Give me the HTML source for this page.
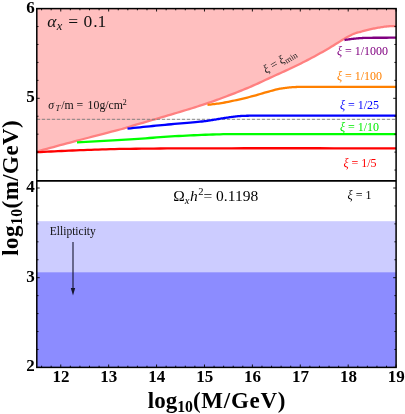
<!DOCTYPE html>
<html><head><meta charset="utf-8"><title>plot</title>
<style>
html,body{margin:0;padding:0;background:#fff;}
body{width:405px;height:414px;overflow:hidden;position:relative;font-family:"Liberation Serif",serif;}
</style></head><body>
<svg width="405" height="414" viewBox="0 0 405 414" style="position:absolute;left:0;top:0;will-change:transform">
<rect x="0" y="0" width="405" height="414" fill="#fff"/>
<rect x="36.8" y="221.2" width="359.3" height="51.0" fill="#ccccff"/>
<rect x="36.8" y="272.2" width="359.3" height="95.19999999999999" fill="#8c8cff"/>
<polygon points="36.8,8.6 396.1,8.6 396.10,26.00 395.30,26.04 394.51,26.07 393.74,26.09 392.97,26.11 392.20,26.13 391.42,26.16 390.63,26.19 389.83,26.22 389.01,26.27 388.17,26.33 387.30,26.41 386.40,26.50 385.46,26.61 384.49,26.73 383.49,26.87 382.46,27.02 381.42,27.18 380.36,27.34 379.30,27.52 378.23,27.70 377.16,27.89 376.09,28.09 375.04,28.29 374.00,28.50 372.97,28.71 371.94,28.93 370.92,29.15 369.89,29.37 368.87,29.61 367.84,29.85 366.82,30.10 365.80,30.36 364.77,30.63 363.75,30.91 362.72,31.20 361.70,31.50 360.71,31.78 359.79,32.03 358.92,32.26 358.06,32.48 357.20,32.71 356.32,32.96 355.40,33.26 354.42,33.61 353.35,34.04 352.17,34.55 350.86,35.16 349.40,35.90 347.78,36.77 346.01,37.78 344.12,38.89 342.13,40.10 340.05,41.38 337.90,42.71 335.70,44.08 333.48,45.46 331.25,46.83 329.03,48.17 326.84,49.47 324.70,50.70 322.58,51.89 320.44,53.08 318.28,54.27 316.11,55.46 313.94,56.64 311.76,57.81 309.57,58.96 307.40,60.11 305.23,61.24 303.07,62.34 300.92,63.43 298.80,64.50 296.69,65.54 294.60,66.55 292.52,67.54 290.44,68.51 288.38,69.47 286.32,70.41 284.26,71.35 282.21,72.27 280.16,73.20 278.11,74.13 276.06,75.06 274.00,76.00 271.94,76.95 269.89,77.90 267.84,78.85 265.79,79.81 263.74,80.76 261.69,81.71 259.65,82.65 257.60,83.58 255.55,84.51 253.50,85.42 251.45,86.32 249.40,87.20 247.35,88.07 245.29,88.93 243.23,89.77 241.17,90.61 239.12,91.44 237.06,92.26 235.00,93.07 232.94,93.87 230.88,94.66 228.82,95.45 226.76,96.23 224.70,97.00 222.67,97.76 220.70,98.49 218.77,99.21 216.85,99.91 214.93,100.61 212.99,101.30 211.02,102.00 209.00,102.70 206.90,103.42 204.71,104.15 202.42,104.91 200.00,105.70 197.44,106.52 194.76,107.36 191.97,108.23 189.10,109.11 186.15,110.00 183.14,110.91 180.10,111.82 177.05,112.73 173.99,113.63 170.95,114.53 167.95,115.42 165.00,116.30 162.00,117.19 158.88,118.11 155.66,119.05 152.41,120.00 149.15,120.94 145.94,121.88 142.81,122.78 139.81,123.65 136.99,124.47 134.39,125.22 132.04,125.90 130.00,126.50 128.40,126.98 127.27,127.32 126.52,127.56 126.04,127.73 125.73,127.85 125.50,127.94 125.24,128.03 124.85,128.16 124.23,128.34 123.29,128.61 121.91,128.99 120.00,129.50 117.56,130.15 114.71,130.90 111.50,131.73 108.01,132.64 104.28,133.61 100.39,134.61 96.39,135.65 92.35,136.69 88.33,137.74 84.39,138.76 80.59,139.75 77.00,140.70 73.55,141.61 70.14,142.52 66.75,143.43 63.39,144.33 60.05,145.23 56.72,146.12 53.41,147.02 50.10,147.91 46.78,148.81 43.47,149.70 40.14,150.60 36.80,151.50" fill="#ffbfbf"/>
<polyline points="36.80,151.50 40.14,150.60 43.47,149.70 46.78,148.81 50.10,147.91 53.41,147.02 56.72,146.12 60.05,145.23 63.39,144.33 66.75,143.43 70.14,142.52 73.55,141.61 77.00,140.70 80.59,139.75 84.39,138.76 88.33,137.74 92.35,136.69 96.39,135.65 100.39,134.61 104.28,133.61 108.01,132.64 111.50,131.73 114.71,130.90 117.56,130.15 120.00,129.50 121.91,128.99 123.29,128.61 124.23,128.34 124.85,128.16 125.24,128.03 125.50,127.94 125.73,127.85 126.04,127.73 126.52,127.56 127.27,127.32 128.40,126.98 130.00,126.50 132.04,125.90 134.39,125.22 136.99,124.47 139.81,123.65 142.81,122.78 145.94,121.88 149.15,120.94 152.41,120.00 155.66,119.05 158.88,118.11 162.00,117.19 165.00,116.30 167.95,115.42 170.95,114.53 173.99,113.63 177.05,112.73 180.10,111.82 183.14,110.91 186.15,110.00 189.10,109.11 191.97,108.23 194.76,107.36 197.44,106.52 200.00,105.70 202.42,104.91 204.71,104.15 206.90,103.42 209.00,102.70 211.02,102.00 212.99,101.30 214.93,100.61 216.85,99.91 218.77,99.21 220.70,98.49 222.67,97.76 224.70,97.00 226.76,96.23 228.82,95.45 230.88,94.66 232.94,93.87 235.00,93.07 237.06,92.26 239.12,91.44 241.17,90.61 243.23,89.77 245.29,88.93 247.35,88.07 249.40,87.20 251.45,86.32 253.50,85.42 255.55,84.51 257.60,83.58 259.65,82.65 261.69,81.71 263.74,80.76 265.79,79.81 267.84,78.85 269.89,77.90 271.94,76.95 274.00,76.00 276.06,75.06 278.11,74.13 280.16,73.20 282.21,72.27 284.26,71.35 286.32,70.41 288.38,69.47 290.44,68.51 292.52,67.54 294.60,66.55 296.69,65.54 298.80,64.50 300.92,63.43 303.07,62.34 305.23,61.24 307.40,60.11 309.57,58.96 311.76,57.81 313.94,56.64 316.11,55.46 318.28,54.27 320.44,53.08 322.58,51.89 324.70,50.70 326.84,49.47 329.03,48.17 331.25,46.83 333.48,45.46 335.70,44.08 337.90,42.71 340.05,41.38 342.13,40.10 344.12,38.89 346.01,37.78 347.78,36.77 349.40,35.90 350.86,35.16 352.17,34.55 353.35,34.04 354.42,33.61 355.40,33.26 356.32,32.96 357.20,32.71 358.06,32.48 358.92,32.26 359.79,32.03 360.71,31.78 361.70,31.50 362.72,31.20 363.75,30.91 364.77,30.63 365.80,30.36 366.82,30.10 367.84,29.85 368.87,29.61 369.89,29.37 370.92,29.15 371.94,28.93 372.97,28.71 374.00,28.50 375.04,28.29 376.09,28.09 377.16,27.89 378.23,27.70 379.30,27.52 380.36,27.34 381.42,27.18 382.46,27.02 383.49,26.87 384.49,26.73 385.46,26.61 386.40,26.50 387.30,26.41 388.17,26.33 389.01,26.27 389.83,26.22 390.63,26.19 391.42,26.16 392.20,26.13 392.97,26.11 393.74,26.09 394.51,26.07 395.30,26.04 396.10,26.00" fill="none" stroke="#ff8080" stroke-width="2.3"/>
<line x1="36.8" y1="119.3" x2="396.1" y2="119.3" stroke="#777" stroke-width="0.9" stroke-dasharray="3.4,1.6"/>
<line x1="36.8" y1="180.8" x2="396.1" y2="180.8" stroke="#000" stroke-width="1.7"/>
<polyline points="36.80,152.20 40.38,152.03 43.92,151.86 47.44,151.69 50.95,151.51 54.46,151.34 57.97,151.16 61.52,150.99 65.10,150.82 68.72,150.66 72.41,150.50 76.16,150.35 80.00,150.20 83.80,150.06 87.48,149.92 91.08,149.79 94.68,149.66 98.33,149.53 102.08,149.41 105.99,149.29 110.12,149.18 114.53,149.07 119.27,148.97 124.41,148.88 130.00,148.80 135.83,148.73 141.69,148.66 147.67,148.60 153.85,148.55 160.30,148.50 167.12,148.46 174.37,148.43 182.14,148.40 190.51,148.37 199.55,148.34 209.36,148.32 220.00,148.30 231.66,148.28 244.37,148.27 257.97,148.26 272.32,148.26 287.27,148.26 302.67,148.27 318.37,148.27 334.21,148.28 350.06,148.29 365.75,148.29 381.15,148.30 396.10,148.30" fill="none" stroke="#ff0000" stroke-width="2.3" stroke-linejoin="round"/>
<polyline points="77.00,142.30 81.44,142.06 85.93,141.82 90.44,141.58 94.96,141.34 99.49,141.11 104.00,140.87 108.48,140.63 112.93,140.39 117.31,140.15 121.63,139.90 125.86,139.65 130.00,139.40 134.03,139.14 137.96,138.87 141.81,138.59 145.59,138.31 149.32,138.02 153.00,137.74 156.66,137.46 160.30,137.18 163.94,136.92 167.59,136.66 171.28,136.42 175.00,136.20 178.77,135.99 182.56,135.79 186.37,135.59 190.19,135.41 194.00,135.23 197.81,135.06 201.60,134.91 205.37,134.76 209.10,134.62 212.79,134.50 216.43,134.39 220.00,134.30 223.20,134.22 225.84,134.16 228.10,134.12 230.14,134.10 232.15,134.08 234.31,134.07 236.77,134.08 239.73,134.08 243.36,134.09 247.83,134.10 253.32,134.10 260.00,134.10 267.98,134.10 277.12,134.10 287.27,134.10 298.25,134.11 309.90,134.12 322.04,134.13 334.53,134.14 347.17,134.16 359.82,134.17 372.30,134.18 384.45,134.19 396.10,134.20" fill="none" stroke="#00ff00" stroke-width="2.3" stroke-linejoin="round"/>
<polyline points="127.50,128.60 130.63,128.28 133.78,127.96 136.93,127.63 140.09,127.31 143.25,126.98 146.41,126.66 149.55,126.33 152.69,126.01 155.80,125.70 158.89,125.39 161.96,125.09 165.00,124.80 168.08,124.51 171.24,124.23 174.46,123.94 177.69,123.66 180.91,123.39 184.08,123.12 187.15,122.86 190.11,122.60 192.90,122.36 195.51,122.13 197.89,121.91 200.00,121.70 201.82,121.51 203.36,121.34 204.67,121.18 205.78,121.04 206.73,120.91 207.56,120.78 208.32,120.66 209.03,120.54 209.75,120.41 210.51,120.28 211.34,120.15 212.30,120.00 213.33,119.84 214.36,119.68 215.40,119.51 216.43,119.34 217.46,119.17 218.50,119.00 219.54,118.83 220.57,118.66 221.60,118.49 222.64,118.32 223.67,118.16 224.70,118.00 225.73,117.84 226.75,117.69 227.78,117.53 228.80,117.37 229.83,117.21 230.85,117.06 231.87,116.92 232.90,116.77 233.92,116.64 234.95,116.52 235.97,116.40 237.00,116.30 238.00,116.21 238.97,116.13 239.90,116.06 240.82,116.00 241.74,115.95 242.68,115.90 243.65,115.86 244.66,115.82 245.72,115.79 246.86,115.76 248.08,115.73 249.40,115.70 250.49,115.67 251.14,115.65 251.50,115.64 251.75,115.63 252.06,115.62 252.59,115.61 253.52,115.61 255.01,115.61 257.24,115.61 260.37,115.61 264.56,115.60 270.00,115.60 276.81,115.60 284.91,115.59 294.11,115.59 304.22,115.59 315.06,115.59 326.46,115.59 338.22,115.59 350.16,115.60 362.10,115.60 373.86,115.60 385.26,115.60 396.10,115.60" fill="none" stroke="#0000ff" stroke-width="2.3" stroke-linejoin="round"/>
<polyline points="207.50,104.90 208.91,104.71 210.28,104.54 211.62,104.37 212.96,104.21 214.29,104.06 215.63,103.89 217.00,103.72 218.41,103.53 219.87,103.32 221.40,103.08 223.00,102.81 224.70,102.50 226.50,102.15 228.38,101.78 230.35,101.38 232.38,100.95 234.47,100.50 236.59,100.03 238.74,99.55 240.90,99.05 243.06,98.55 245.20,98.03 247.32,97.52 249.40,97.00 251.49,96.46 253.65,95.88 255.84,95.27 258.06,94.63 260.27,93.99 262.47,93.35 264.62,92.72 266.71,92.11 268.71,91.53 270.61,91.00 272.38,90.52 274.00,90.10 275.46,89.74 276.77,89.43 277.96,89.17 279.04,88.94 280.03,88.74 280.96,88.57 281.85,88.43 282.72,88.29 283.59,88.17 284.47,88.05 285.41,87.93 286.40,87.80 287.41,87.67 288.36,87.56 289.29,87.46 290.21,87.37 291.12,87.29 292.05,87.21 293.01,87.15 294.01,87.09 295.08,87.04 296.22,86.99 297.46,86.94 298.80,86.90 300.08,86.86 301.19,86.84 302.19,86.82 303.18,86.80 304.23,86.80 305.42,86.79 306.83,86.79 308.54,86.80 310.63,86.80 313.19,86.80 316.28,86.80 320.00,86.80 324.42,86.80 329.51,86.79 335.16,86.79 341.30,86.79 347.82,86.79 354.62,86.79 361.61,86.79 368.70,86.80 375.79,86.80 382.78,86.80 389.58,86.80 396.10,86.80" fill="none" stroke="#ff8000" stroke-width="2.3" stroke-linejoin="round"/>
<polyline points="344.50,40.00 345.15,39.91 345.79,39.81 346.43,39.72 347.07,39.62 347.70,39.53 348.34,39.43 348.99,39.34 349.63,39.24 350.29,39.15 350.95,39.07 351.62,38.98 352.30,38.90 352.99,38.82 353.69,38.74 354.40,38.67 355.12,38.59 355.85,38.52 356.58,38.45 357.31,38.38 358.04,38.32 358.78,38.26 359.52,38.20 360.26,38.15 361.00,38.10 361.69,38.06 362.28,38.02 362.83,37.99 363.34,37.96 363.86,37.93 364.41,37.91 365.02,37.89 365.72,37.87 366.54,37.85 367.51,37.83 368.65,37.82 370.00,37.80 371.58,37.78 373.36,37.77 375.32,37.76 377.43,37.75 379.66,37.74 381.98,37.74 384.36,37.73 386.77,37.73 389.17,37.72 391.55,37.71 393.87,37.71 396.10,37.70" fill="none" stroke="#800080" stroke-width="2.3" stroke-linejoin="round"/>
<line x1="73.0" y1="242" x2="73.0" y2="290" stroke="#15152e" stroke-width="1.1"/>
<polygon points="70.8,288 75.2,288 73.0,295.6" fill="#15152e"/>
<path d="M41.59,367.4v-1.7M41.59,8.6v1.7M51.17,367.4v-1.7M51.17,8.6v1.7M60.75,367.4v-2.9M60.75,8.6v2.9M70.33,367.4v-1.7M70.33,8.6v1.7M79.92,367.4v-1.7M79.92,8.6v1.7M89.50,367.4v-1.7M89.50,8.6v1.7M99.08,367.4v-1.7M99.08,8.6v1.7M108.66,367.4v-2.9M108.66,8.6v2.9M118.24,367.4v-1.7M118.24,8.6v1.7M127.82,367.4v-1.7M127.82,8.6v1.7M137.40,367.4v-1.7M137.40,8.6v1.7M146.99,367.4v-1.7M146.99,8.6v1.7M156.57,367.4v-2.9M156.57,8.6v2.9M166.15,367.4v-1.7M166.15,8.6v1.7M175.73,367.4v-1.7M175.73,8.6v1.7M185.31,367.4v-1.7M185.31,8.6v1.7M194.89,367.4v-1.7M194.89,8.6v1.7M204.47,367.4v-2.9M204.47,8.6v2.9M214.05,367.4v-1.7M214.05,8.6v1.7M223.64,367.4v-1.7M223.64,8.6v1.7M233.22,367.4v-1.7M233.22,8.6v1.7M242.80,367.4v-1.7M242.80,8.6v1.7M252.38,367.4v-2.9M252.38,8.6v2.9M261.96,367.4v-1.7M261.96,8.6v1.7M271.54,367.4v-1.7M271.54,8.6v1.7M281.12,367.4v-1.7M281.12,8.6v1.7M290.71,367.4v-1.7M290.71,8.6v1.7M300.29,367.4v-2.9M300.29,8.6v2.9M309.87,367.4v-1.7M309.87,8.6v1.7M319.45,367.4v-1.7M319.45,8.6v1.7M329.03,367.4v-1.7M329.03,8.6v1.7M338.61,367.4v-1.7M338.61,8.6v1.7M348.19,367.4v-2.9M348.19,8.6v2.9M357.77,367.4v-1.7M357.77,8.6v1.7M367.36,367.4v-1.7M367.36,8.6v1.7M376.94,367.4v-1.7M376.94,8.6v1.7M386.52,367.4v-1.7M386.52,8.6v1.7M396.10,367.4v-2.9M396.10,8.6v2.9M36.8,367.40h2.9M396.1,367.40h-2.9M36.8,349.46h1.7M396.1,349.46h-1.7M36.8,331.52h1.7M396.1,331.52h-1.7M36.8,313.58h1.7M396.1,313.58h-1.7M36.8,295.64h1.7M396.1,295.64h-1.7M36.8,277.70h2.9M396.1,277.70h-2.9M36.8,259.76h1.7M396.1,259.76h-1.7M36.8,241.82h1.7M396.1,241.82h-1.7M36.8,223.88h1.7M396.1,223.88h-1.7M36.8,205.94h1.7M396.1,205.94h-1.7M36.8,188.00h2.9M396.1,188.00h-2.9M36.8,170.06h1.7M396.1,170.06h-1.7M36.8,152.12h1.7M396.1,152.12h-1.7M36.8,134.18h1.7M396.1,134.18h-1.7M36.8,116.24h1.7M396.1,116.24h-1.7M36.8,98.30h2.9M396.1,98.30h-2.9M36.8,80.36h1.7M396.1,80.36h-1.7M36.8,62.42h1.7M396.1,62.42h-1.7M36.8,44.48h1.7M396.1,44.48h-1.7M36.8,26.54h1.7M396.1,26.54h-1.7M36.8,8.60h2.9M396.1,8.60h-2.9" stroke="#000" stroke-width="0.9" fill="none"/>
<rect x="36.8" y="8.6" width="359.3" height="358.79999999999995" fill="none" stroke="#000" stroke-width="1.5"/>
<g font-family="Liberation Serif, serif" font-weight="bold" font-size="17px" fill="#000">
<text x="60.95" y="381.8" text-anchor="middle">12</text>
<text x="108.86" y="381.8" text-anchor="middle">13</text>
<text x="156.77" y="381.8" text-anchor="middle">14</text>
<text x="204.67" y="381.8" text-anchor="middle">15</text>
<text x="252.58" y="381.8" text-anchor="middle">16</text>
<text x="300.49" y="381.8" text-anchor="middle">17</text>
<text x="348.39" y="381.8" text-anchor="middle">18</text>
<text x="396.30" y="381.8" text-anchor="middle">19</text>
<text x="34.8" y="371.40" text-anchor="end">2</text>
<text x="34.8" y="281.70" text-anchor="end">3</text>
<text x="34.8" y="192.00" text-anchor="end">4</text>
<text x="34.8" y="102.30" text-anchor="end">5</text>
<text x="34.8" y="12.60" text-anchor="end">6</text>
</g>
<text x="147.8" y="408" font-family="Liberation Serif, serif" font-weight="bold" font-size="23px" fill="#000">log<tspan font-size="15.8px" dy="3.7">10</tspan><tspan dy="-3.7" letter-spacing="0.72">(M/GeV)</tspan></text>
<text transform="translate(18.2,255.8) rotate(-90)" font-family="Liberation Serif, serif" font-weight="bold" font-size="23px" letter-spacing="0.43" fill="#000">log<tspan font-size="15.8px" dy="3.7">10</tspan><tspan dy="-3.7">(m/GeV)</tspan></text>
<text x="362.5" y="54.5" font-family="Liberation Serif, serif" font-size="12px" fill="#800080" text-anchor="middle"><tspan font-style="italic">ξ</tspan> = 1/1000</text>
<text x="359.5" y="79.8" font-family="Liberation Serif, serif" font-size="12px" fill="#ff8000" text-anchor="middle"><tspan font-style="italic">ξ</tspan> = 1/100</text>
<text x="359.5" y="109.3" font-family="Liberation Serif, serif" font-size="12px" fill="#0000ff" text-anchor="middle"><tspan font-style="italic">ξ</tspan> = 1/25</text>
<text x="359.5" y="130.8" font-family="Liberation Serif, serif" font-size="12px" fill="#00ee00" text-anchor="middle"><tspan font-style="italic">ξ</tspan> = 1/10</text>
<text x="360" y="166.8" font-family="Liberation Serif, serif" font-size="12px" fill="#ff0000" text-anchor="middle"><tspan font-style="italic">ξ</tspan> = 1/5</text>
<text x="359.5" y="198.6" font-family="Liberation Serif, serif" font-size="12px" fill="#000" text-anchor="middle"><tspan font-style="italic">ξ</tspan> = 1</text>
<text x="173.3" y="200.5" font-family="Liberation Serif, serif" font-size="15.5px" fill="#000">Ω<tspan font-style="italic" font-size="10.5px" dy="3">x</tspan><tspan font-style="italic" dy="-3" dx="0.5">h</tspan><tspan font-size="10.5px" dy="-6" dx="0.5">2</tspan><tspan dy="6">= 0.1198</tspan></text>
<text x="49.8" y="234.6" font-family="Liberation Serif, serif" font-size="11.5px" fill="#111">Ellipticity</text>
<text y="109.3" font-family="Liberation Serif, serif" font-size="11.8px" fill="#111"><tspan x="48.2" font-style="italic">σ</tspan><tspan x="55.4" font-style="italic" font-size="8.5px" dy="2">T</tspan><tspan x="61.3" dy="-2">/m</tspan><tspan x="76.6">=</tspan><tspan x="87.6">10g/cm</tspan><tspan x="122.6" font-size="8.5px" dy="-4.5">2</tspan></text>
<text y="27" font-family="Liberation Serif, serif" font-size="17.5px" fill="#111"><tspan x="47.3" font-style="italic">α</tspan><tspan x="56.8" font-style="italic" font-size="12.5px" dy="2.6">x</tspan><tspan x="68.3" dy="-2.6">=</tspan><tspan x="83.6">0</tspan><tspan x="93.2">.</tspan><tspan x="97.6">1</tspan></text>
<text transform="translate(266,73.8) rotate(-31)" font-family="Liberation Serif, serif" font-size="12px" fill="#222"><tspan font-style="italic">ξ</tspan> = <tspan font-style="italic">ξ</tspan><tspan font-size="8.5px" dy="2.0">min</tspan></text>
</svg>
</body></html>
